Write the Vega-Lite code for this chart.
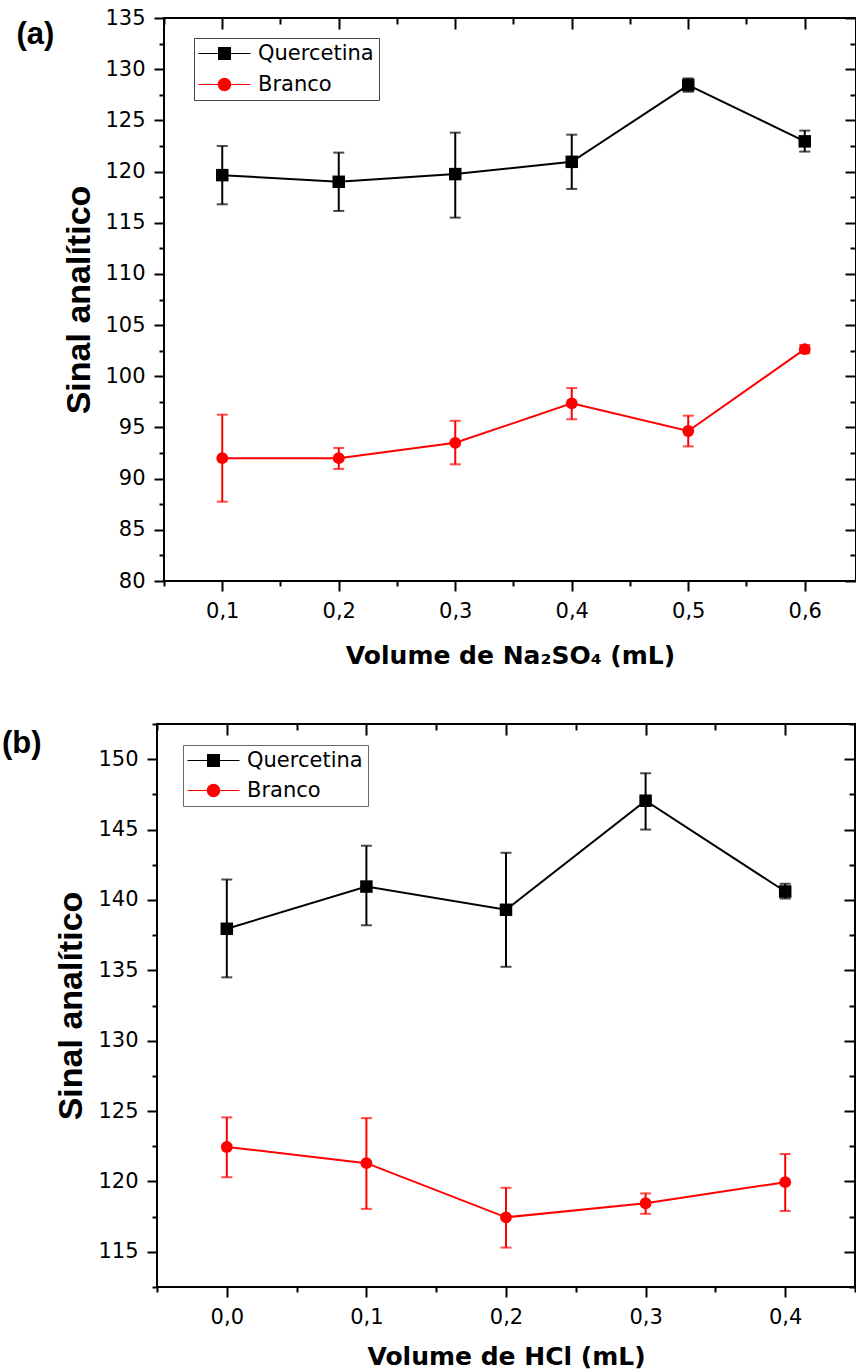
{
  "$schema": "https://vega.github.io/schema/vega-lite/v6.json",
  "background": "white",
  "padding": {"left": 0, "top": 6, "right": 0, "bottom": 0},
  "datasets": {
    "a": [
      {"x": 0.1, "s": "Quercetina", "v": 119.65, "lo": 116.8, "hi": 122.5},
      {"x": 0.2, "s": "Quercetina", "v": 119.0, "lo": 116.15, "hi": 121.85},
      {"x": 0.3, "s": "Quercetina", "v": 119.75, "lo": 115.5, "hi": 123.8},
      {"x": 0.4, "s": "Quercetina", "v": 120.95, "lo": 118.3, "hi": 123.6},
      {"x": 0.5, "s": "Quercetina", "v": 128.45, "lo": 127.8, "hi": 129.1},
      {"x": 0.6, "s": "Quercetina", "v": 122.95, "lo": 121.95, "hi": 124.0},
      {"x": 0.1, "s": "Branco", "v": 92.0, "lo": 87.75, "hi": 96.25},
      {"x": 0.2, "s": "Branco", "v": 92.0, "lo": 90.95, "hi": 93.0},
      {"x": 0.3, "s": "Branco", "v": 93.5, "lo": 91.4, "hi": 95.65},
      {"x": 0.4, "s": "Branco", "v": 97.35, "lo": 95.8, "hi": 98.85},
      {"x": 0.5, "s": "Branco", "v": 94.65, "lo": 93.15, "hi": 96.15},
      {"x": 0.6, "s": "Branco", "v": 102.65, "lo": 102.25, "hi": 103.05}
    ],
    "b": [
      {"x": 0.0, "s": "Quercetina", "v": 137.95, "lo": 134.5, "hi": 141.45},
      {"x": 0.1, "s": "Quercetina", "v": 140.95, "lo": 138.2, "hi": 143.85},
      {"x": 0.2, "s": "Quercetina", "v": 139.3, "lo": 135.25, "hi": 143.35},
      {"x": 0.3, "s": "Quercetina", "v": 147.05, "lo": 145.0, "hi": 149.0},
      {"x": 0.4, "s": "Quercetina", "v": 140.6, "lo": 140.1, "hi": 141.15},
      {"x": 0.0, "s": "Branco", "v": 122.45, "lo": 120.3, "hi": 124.55},
      {"x": 0.1, "s": "Branco", "v": 121.3, "lo": 118.05, "hi": 124.5},
      {"x": 0.2, "s": "Branco", "v": 117.45, "lo": 115.3, "hi": 119.55},
      {"x": 0.3, "s": "Branco", "v": 118.45, "lo": 117.7, "hi": 119.15},
      {"x": 0.4, "s": "Branco", "v": 119.95, "lo": 117.9, "hi": 121.95}
    ]
  },
  "vconcat": [
    {"hconcat": [
    {"width": 1, "height": 1, "data": {"values": [{"k": 0}]}, "mark": {"type": "point", "opacity": 0, "size": 0, "filled": true, "strokeWidth": 0}, "encoding": {}, "view": {"stroke": null}},
    {
      "width": 692,
      "height": 563,
      "data": {"name": "a"},
      "title": {"text": "(a)", "anchor": "start", "frame": "group", "orient": "top", "offset": -30, "dx": -147.5, "dy": 37.5, "baseline": "alphabetic", "font": "Liberation Sans", "fontSize": 31, "fontWeight": "bold", "color": "black"},
      "resolve": {"axis": {"x": "independent", "y": "independent"}},
      "layer": [
        {
          "transform": [{"filter": "datum.s === 'Quercetina'"}],
          "mark": {"type": "rule", "strokeWidth": 2, "color": "#000000"},
          "encoding": {
            "x": {"field": "x", "type": "quantitative", "scale": {"domain": [0.05, 0.644], "nice": false, "zero": false},
              "axis": {"orient": "bottom", "values": [0.1, 0.2, 0.3, 0.4, 0.5, 0.6], "labelExpr": "replace(format(datum.value, '.1f'), '.', ',')", "title": "Volume de Na\u2082SO\u2084 (mL)", "tickSize": 10, "labelPadding": 9.5, "labelFont": "DejaVu Sans", "labelFontSize": 21, "labelFlush": false, "titleFont": "DejaVu Sans", "titleFontSize": 25, "titleFontWeight": "bold", "titlePadding": 22}},
            "y": {"field": "lo", "type": "quantitative", "scale": {"domain": [80, 135], "nice": false, "zero": false},
              "axis": {"orient": "left", "values": [80, 85, 90, 95, 100, 105, 110, 115, 120, 125, 130, 135], "title": "Sinal anal\u00edtico", "tickSize": 10, "labelPadding": 9, "labelFont": "DejaVu Sans", "labelFontSize": 21, "labelFlush": false, "titleFont": "Liberation Sans", "titleFontSize": 34, "titleFontWeight": "bold", "titlePadding": 8}},
            "y2": {"field": "hi"}
          }
        },
        {
          "transform": [{"filter": "datum.s === 'Quercetina'"}],
          "mark": {"type": "tick", "orient": "horizontal", "size": 11, "thickness": 2, "color": "#000000"},
          "encoding": {
            "x": {"field": "x", "type": "quantitative", "scale": {"domain": [0.05, 0.644], "nice": false, "zero": false},
              "axis": {"orient": "bottom", "values": [0.05, 0.15, 0.25, 0.35, 0.45, 0.55], "labels": false, "title": null, "tickSize": 5}},
            "y": {"field": "lo", "type": "quantitative", "scale": {"domain": [80, 135], "nice": false, "zero": false},
              "axis": {"orient": "left", "values": [82.5, 87.5, 92.5, 97.5, 102.5, 107.5, 112.5, 117.5, 122.5, 127.5, 132.5], "labels": false, "title": null, "tickSize": 5}}
          }
        },
        {
          "transform": [{"filter": "datum.s === 'Quercetina'"}],
          "mark": {"type": "tick", "orient": "horizontal", "size": 11, "thickness": 2, "color": "#000000"},
          "encoding": {
            "x": {"field": "x", "type": "quantitative", "scale": {"domain": [0.05, 0.644], "nice": false, "zero": false},
              "axis": {"orient": "top", "values": [0.1, 0.2, 0.3, 0.4, 0.5, 0.6], "labels": false, "title": null, "tickSize": -11}},
            "y": {"field": "hi", "type": "quantitative", "scale": {"domain": [80, 135], "nice": false, "zero": false},
              "axis": {"orient": "right", "values": [80, 85, 90, 95, 100, 105, 110, 115, 120, 125, 130, 135], "labels": false, "title": null, "tickSize": -11}}
          }
        },
        {
          "transform": [{"filter": "datum.s === 'Quercetina'"}],
          "mark": {"type": "line", "strokeWidth": 2, "color": "#000000"},
          "encoding": {
            "x": {"field": "x", "type": "quantitative", "scale": {"domain": [0.05, 0.644], "nice": false, "zero": false},
              "axis": {"orient": "top", "values": [0.05, 0.15, 0.25, 0.35, 0.45, 0.55], "labels": false, "title": null, "tickSize": -6}},
            "y": {"field": "v", "type": "quantitative", "scale": {"domain": [80, 135], "nice": false, "zero": false},
              "axis": {"orient": "right", "values": [82.5, 87.5, 92.5, 97.5, 102.5, 107.5, 112.5, 117.5, 122.5, 127.5, 132.5], "labels": false, "title": null, "tickSize": -6}}
          }
        },
        {
          "transform": [{"filter": "datum.s === 'Branco'"}],
          "mark": {"type": "rule", "strokeWidth": 2, "color": "#ff0000"},
          "encoding": {
            "x": {"field": "x", "type": "quantitative", "axis": null},
            "y": {"field": "lo", "type": "quantitative",
              "axis": {"orient": "left", "values": [], "ticks": false, "labels": false, "domain": false, "offset": 158, "title": "|", "titleFontSize": 4, "titleColor": "white", "titlePadding": 0}},
            "y2": {"field": "hi"}
          }
        },
        {
          "transform": [{"filter": "datum.s === 'Branco'"}],
          "mark": {"type": "tick", "orient": "horizontal", "size": 11, "thickness": 2, "color": "#ff0000"},
          "encoding": {
            "x": {"field": "x", "type": "quantitative", "axis": null},
            "y": {"field": "lo", "type": "quantitative", "axis": null}
          }
        },
        {
          "transform": [{"filter": "datum.s === 'Branco'"}],
          "mark": {"type": "tick", "orient": "horizontal", "size": 11, "thickness": 2, "color": "#ff0000"},
          "encoding": {
            "x": {"field": "x", "type": "quantitative", "axis": null},
            "y": {"field": "hi", "type": "quantitative", "axis": null}
          }
        },
        {
          "transform": [{"filter": "datum.s === 'Branco'"}],
          "mark": {"type": "line", "strokeWidth": 2, "color": "#ff0000"},
          "encoding": {
            "x": {"field": "x", "type": "quantitative", "axis": null},
            "y": {"field": "v", "type": "quantitative", "axis": null}
          }
        },
        {
          "transform": [{"filter": "datum.s === 'Quercetina'"}],
          "mark": {"type": "point", "shape": "square", "filled": true, "size": 156, "color": "#000000", "opacity": 1},
          "encoding": {
            "x": {"field": "x", "type": "quantitative", "axis": null},
            "y": {"field": "v", "type": "quantitative", "axis": null}
          }
        },
        {
          "transform": [{"filter": "datum.s === 'Branco'"}],
          "mark": {"type": "point", "shape": "circle", "filled": true, "size": 140, "color": "#ff0000", "opacity": 1},
          "encoding": {
            "x": {"field": "x", "type": "quantitative", "axis": null},
            "y": {"field": "v", "type": "quantitative", "axis": null}
          }
        },
        {
          "mark": {"type": "point", "filled": true, "size": 0, "opacity": 1},
          "encoding": {
            "x": {"field": "x", "type": "quantitative", "axis": null},
            "y": {"field": "v", "type": "quantitative", "axis": null},
            "color": {"field": "s", "type": "nominal",
              "scale": {"domain": ["Quercetina", "Branco"], "range": ["#000000", "#ff0000"]},
              "legend": {"title": null, "orient": "none", "legendX": 30, "legendY": 20, "direction": "vertical", "symbolSize": 400, "symbolOffset": 15, "labelOffset": 23, "symbolStrokeWidth": 0, "labelFont": "DejaVu Sans", "labelFontSize": 21, "labelColor": "black", "strokeColor": "#444444", "fillColor": "white", "padding": 5, "rowPadding": 9}},
            "shape": {"field": "s", "type": "nominal",
              "scale": {"domain": ["Quercetina", "Branco"], "range": ["M-2.6,-0.05H2.6V0.05H-2.6ZM-0.65,-0.65H0.65V0.65H-0.65Z", "M-2.6,-0.05H2.6V0.05H-2.6ZM0.67,0A0.67,0.67 0 1,1 -0.67,0A0.67,0.67 0 1,1 0.67,0Z"]},
              "legend": {"title": null, "orient": "none", "legendX": 30, "legendY": 20, "direction": "vertical", "symbolSize": 400, "symbolOffset": 15, "labelOffset": 23, "symbolStrokeWidth": 0, "labelFont": "DejaVu Sans", "labelFontSize": 21, "labelColor": "black", "strokeColor": "#444444", "fillColor": "white", "padding": 5, "rowPadding": 9}}
          }
        }
      ]
    }],
    "spacing": 0,
    "resolve": {"scale": {"color": "independent", "shape": "independent"}}},
    {"hconcat": [
    {"width": 1, "height": 1, "data": {"values": [{"k": 0}]}, "mark": {"type": "point", "opacity": 0, "size": 0, "filled": true, "strokeWidth": 0}, "encoding": {}, "view": {"stroke": null}},
    {
      "width": 698,
      "height": 563,
      "data": {"name": "b"},
      "title": {"text": "(b)", "anchor": "start", "frame": "group", "orient": "top", "offset": -25, "dx": -155, "dy": 36.2, "baseline": "alphabetic", "font": "Liberation Sans", "fontSize": 31, "fontWeight": "bold", "color": "black"},
      "resolve": {"axis": {"x": "independent", "y": "independent"}},
      "layer": [
        {
          "transform": [{"filter": "datum.s === 'Quercetina'"}],
          "mark": {"type": "rule", "strokeWidth": 2, "color": "#000000"},
          "encoding": {
            "x": {"field": "x", "type": "quantitative", "scale": {"domain": [-0.05, 0.45], "nice": false, "zero": false},
              "axis": {"orient": "bottom", "values": [0, 0.1, 0.2, 0.3, 0.4], "labelExpr": "replace(format(datum.value, '.1f'), '.', ',')", "title": "Volume de HCl (mL)", "tickSize": 10, "labelPadding": 9.5, "labelFont": "DejaVu Sans", "labelFontSize": 21, "labelFlush": false, "titleFont": "DejaVu Sans", "titleFontSize": 25, "titleFontWeight": "bold", "titlePadding": 17}},
            "y": {"field": "lo", "type": "quantitative", "scale": {"domain": [112.5, 152.5], "nice": false, "zero": false},
              "axis": {"orient": "left", "values": [115, 120, 125, 130, 135, 140, 145, 150], "title": "Sinal anal\u00edtico", "tickSize": 10, "labelPadding": 9, "labelFont": "DejaVu Sans", "labelFontSize": 21, "labelFlush": false, "titleFont": "Liberation Sans", "titleFontSize": 34, "titleFontWeight": "bold", "titlePadding": 9}},
            "y2": {"field": "hi"}
          }
        },
        {
          "transform": [{"filter": "datum.s === 'Quercetina'"}],
          "mark": {"type": "tick", "orient": "horizontal", "size": 11, "thickness": 2, "color": "#000000"},
          "encoding": {
            "x": {"field": "x", "type": "quantitative", "scale": {"domain": [-0.05, 0.45], "nice": false, "zero": false},
              "axis": {"orient": "bottom", "values": [-0.05, 0.05, 0.15, 0.25, 0.35, 0.45], "labels": false, "title": null, "tickSize": 5}},
            "y": {"field": "lo", "type": "quantitative", "scale": {"domain": [112.5, 152.5], "nice": false, "zero": false},
              "axis": {"orient": "left", "values": [112.5, 117.5, 122.5, 127.5, 132.5, 137.5, 142.5, 147.5, 152.5], "labels": false, "title": null, "tickSize": 5}}
          }
        },
        {
          "transform": [{"filter": "datum.s === 'Quercetina'"}],
          "mark": {"type": "tick", "orient": "horizontal", "size": 11, "thickness": 2, "color": "#000000"},
          "encoding": {
            "x": {"field": "x", "type": "quantitative", "scale": {"domain": [-0.05, 0.45], "nice": false, "zero": false},
              "axis": {"orient": "top", "values": [0, 0.1, 0.2, 0.3, 0.4], "labels": false, "title": null, "tickSize": -11}},
            "y": {"field": "hi", "type": "quantitative", "scale": {"domain": [112.5, 152.5], "nice": false, "zero": false},
              "axis": {"orient": "right", "values": [115, 120, 125, 130, 135, 140, 145, 150], "labels": false, "title": null, "tickSize": -11}}
          }
        },
        {
          "transform": [{"filter": "datum.s === 'Quercetina'"}],
          "mark": {"type": "line", "strokeWidth": 2, "color": "#000000"},
          "encoding": {
            "x": {"field": "x", "type": "quantitative", "scale": {"domain": [-0.05, 0.45], "nice": false, "zero": false},
              "axis": {"orient": "top", "values": [-0.05, 0.05, 0.15, 0.25, 0.35, 0.45], "labels": false, "title": null, "tickSize": -6}},
            "y": {"field": "v", "type": "quantitative", "scale": {"domain": [112.5, 152.5], "nice": false, "zero": false},
              "axis": {"orient": "right", "values": [112.5, 117.5, 122.5, 127.5, 132.5, 137.5, 142.5, 147.5, 152.5], "labels": false, "title": null, "tickSize": -6}}
          }
        },
        {
          "transform": [{"filter": "datum.s === 'Branco'"}],
          "mark": {"type": "rule", "strokeWidth": 2, "color": "#ff0000"},
          "encoding": {
            "x": {"field": "x", "type": "quantitative", "axis": null},
            "y": {"field": "lo", "type": "quantitative", "axis": null},
            "y2": {"field": "hi"}
          }
        },
        {
          "transform": [{"filter": "datum.s === 'Branco'"}],
          "mark": {"type": "tick", "orient": "horizontal", "size": 11, "thickness": 2, "color": "#ff0000"},
          "encoding": {
            "x": {"field": "x", "type": "quantitative", "axis": null},
            "y": {"field": "lo", "type": "quantitative", "axis": null}
          }
        },
        {
          "transform": [{"filter": "datum.s === 'Branco'"}],
          "mark": {"type": "tick", "orient": "horizontal", "size": 11, "thickness": 2, "color": "#ff0000"},
          "encoding": {
            "x": {"field": "x", "type": "quantitative", "axis": null},
            "y": {"field": "hi", "type": "quantitative", "axis": null}
          }
        },
        {
          "transform": [{"filter": "datum.s === 'Branco'"}],
          "mark": {"type": "line", "strokeWidth": 2, "color": "#ff0000"},
          "encoding": {
            "x": {"field": "x", "type": "quantitative", "axis": null},
            "y": {"field": "v", "type": "quantitative", "axis": null}
          }
        },
        {
          "transform": [{"filter": "datum.s === 'Quercetina'"}],
          "mark": {"type": "point", "shape": "square", "filled": true, "size": 156, "color": "#000000", "opacity": 1},
          "encoding": {
            "x": {"field": "x", "type": "quantitative", "axis": null},
            "y": {"field": "v", "type": "quantitative", "axis": null}
          }
        },
        {
          "transform": [{"filter": "datum.s === 'Branco'"}],
          "mark": {"type": "point", "shape": "circle", "filled": true, "size": 140, "color": "#ff0000", "opacity": 1},
          "encoding": {
            "x": {"field": "x", "type": "quantitative", "axis": null},
            "y": {"field": "v", "type": "quantitative", "axis": null}
          }
        },
        {
          "mark": {"type": "point", "filled": true, "size": 0, "opacity": 1},
          "encoding": {
            "x": {"field": "x", "type": "quantitative", "axis": null},
            "y": {"field": "v", "type": "quantitative", "axis": null},
            "color": {"field": "s", "type": "nominal",
              "scale": {"domain": ["Quercetina", "Branco"], "range": ["#000000", "#ff0000"]},
              "legend": {"title": null, "orient": "none", "legendX": 26, "legendY": 21, "direction": "vertical", "symbolSize": 400, "symbolOffset": 15, "labelOffset": 23, "symbolStrokeWidth": 0, "labelFont": "DejaVu Sans", "labelFontSize": 21, "labelColor": "black", "strokeColor": "#666666", "fillColor": "white", "padding": 5, "rowPadding": 8}},
            "shape": {"field": "s", "type": "nominal",
              "scale": {"domain": ["Quercetina", "Branco"], "range": ["M-2.6,-0.05H2.6V0.05H-2.6ZM-0.65,-0.65H0.65V0.65H-0.65Z", "M-2.6,-0.05H2.6V0.05H-2.6ZM0.67,0A0.67,0.67 0 1,1 -0.67,0A0.67,0.67 0 1,1 0.67,0Z"]},
              "legend": {"title": null, "orient": "none", "legendX": 26, "legendY": 21, "direction": "vertical", "symbolSize": 400, "symbolOffset": 15, "labelOffset": 23, "symbolStrokeWidth": 0, "labelFont": "DejaVu Sans", "labelFontSize": 21, "labelColor": "black", "strokeColor": "#666666", "fillColor": "white", "padding": 5, "rowPadding": 8}}
          }
        }
      ]
    }],
    "spacing": 0,
    "resolve": {"scale": {"color": "independent", "shape": "independent"}}}
  ],
  "spacing": 52,
  "resolve": {"scale": {"color": "independent", "shape": "independent"}},
  "config": {
    "view": {"stroke": "black", "strokeWidth": 2},
    "axis": {"grid": false, "domain": false, "tickColor": "black", "tickWidth": 2, "labelColor": "black", "titleColor": "black"},
    "font": "DejaVu Sans"
  }
}
